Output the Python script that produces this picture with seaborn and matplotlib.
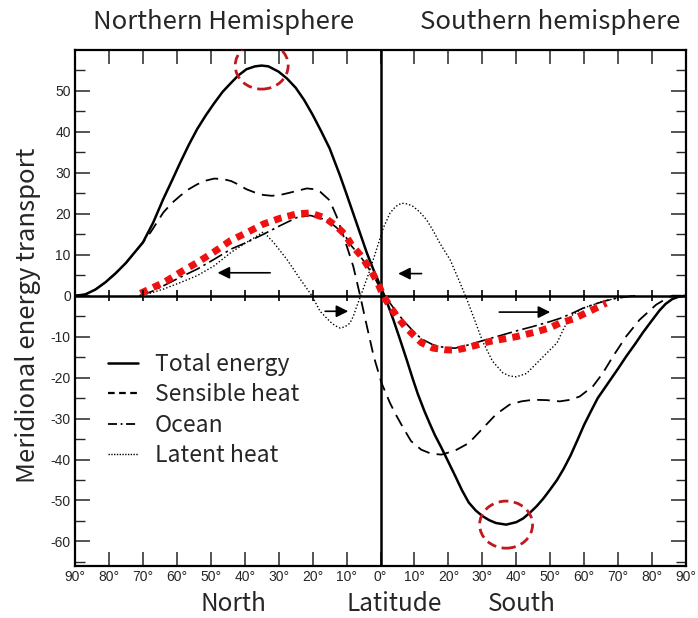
import numpy as np
import matplotlib
matplotlib.use("Agg")
import matplotlib.pyplot as plt
from matplotlib.patches import Ellipse
from matplotlib.lines import Line2D
import seaborn as sns

# ---------------- data (latitude: negative = North, positive = South) ----------------
total_lat = [-90, -87, -84, -81, -78, -75, -72, -70, -67, -64, -61.5, -59, -56.5, -54, -51.5, -49, -46.5, -44, -42,
             -39.5, -37, -35, -33, -30, -27.5, -25, -22.5, -20, -17.5, -15, -12, -10, -8, -6, -4, -2, 0,
             2, 3.8, 5.8, 7.7, 9.5, 11, 13, 14.5, 16, 18, 20, 22, 24, 26, 28, 30, 32, 34, 37, 40, 42, 44, 46,
             48, 50, 52, 54, 56, 58, 60, 62, 64, 67.5, 70, 72.4, 75, 77.3, 80, 82.2, 84, 86, 88, 90]
total_val = [0, 0.3, 1.5, 3.3, 5.5, 8, 11, 13, 17.8, 23.6, 28, 32.5, 36.8, 40.7, 44, 47, 49.8, 52, 53.7,
             55.3, 56, 56.2, 56, 54.7, 53, 50.8, 47.8, 44.2, 40.2, 36, 29.5, 24.8, 20, 15.2, 10.4, 6.2, 2.3,
             -1.8, -5.9, -10.8, -15.6, -20.3, -24, -28.3, -31.2, -34, -37.2, -40.6, -44, -47.5, -50.5, -52.4, -53.8, -54.8, -55.5, -55.9, -55.3, -54.4, -53, -51.4,
             -49.5, -47.3, -45, -42.2, -39, -35.3, -31.5, -28.2, -25, -20.8, -17.8, -14.8, -11.8, -9, -6, -3.6, -2, -0.8, -0.2, 0]

sens_lat = [-90, -87, -84, -81, -78, -75, -72, -70, -67.8, -64, -61.5, -59, -56.5, -54, -51.5, -49, -46.5, -44, -42,
            -39.5, -37, -34.5, -32, -29.6, -27, -24.6, -21.7, -19.5, -17.8, -15, -13, -11, -9.5, -8, -6, -4, -2,
            0.3, 2.8, 4.5, 6.5, 9, 12, 15, 18, 22, 26, 30, 34, 38, 41.5, 45, 49, 52.8, 56, 58.7,
            62.6, 65.5, 68.5, 72.4, 76.3, 81.2, 84, 86, 90]
sens_val = [0, 0.3, 1.5, 3.3, 5.5, 8, 11, 13, 15.4, 20.3, 22.6, 24.4, 26, 27.2, 28.1, 28.6, 28.5, 28, 27.2,
            26, 25.2, 24.6, 24.4, 24.6, 25.1, 25.6, 26.2, 26, 25.4, 23.3, 19.5, 14.8, 11, 7.1, 0, -7.5, -14.8,
            -21.3, -26.2, -29, -32, -35.5, -37.6, -38.6, -38.8, -37.8, -36, -32.5, -29, -26.6, -25.8, -25.4, -25.5, -25.8, -25.4, -24.6,
            -22.1, -18.9, -14.8, -9.9, -5.9, -2.2, -0.8, 0, 0]

ocean_lat = [-71, -67.5, -64, -59, -54, -49, -44, -39.5, -34.5, -29.6, -24.6, -20.7, -15.8, -12.9, -10.4, -8.5, -6, -4, -2, -0.6,
             0.8, 2.8, 5, 7.2, 9.6, 12, 15.5, 19, 22, 26, 30, 35, 40, 45, 50, 53, 56.7, 59.5, 62.6, 66, 69.5, 75]
ocean_val = [0, 1, 2.4, 4.5, 6.5, 8.9, 11.4, 13, 15, 17.1, 19.1, 19.6, 18.5, 16.6, 14.6, 12.1, 9.7, 7.3, 4.8, 2.6,
             0.5, -1.8, -4.3, -6.5, -8.6, -10.5, -12, -12.7, -12.8, -12, -11, -9.8, -8.6, -7.5, -6.3, -5.5, -4.2, -3.1, -2.2, -1.3, -0.6, 0]

latent_lat = [-71, -67.5, -64, -59, -54, -49, -44, -39.5, -36.5, -34.5, -31.5, -27.6, -23.7, -20.2, -17.8, -14.9, -13.4, -11.9,
              -10.5, -9, -8, -7, -5.5, -3.1, -0.6, 0.8, 2.8, 4.5, 6.2, 8, 9.6, 11.5, 13.6, 15.5, 17.5, 20.5, 23, 25.5,
              28, 30, 33, 36, 38, 40, 43, 46, 49, 52, 54, 56, 59.5, 62.6, 66, 69.5, 75]
latent_val = [0, 0.7, 1.6, 3.2, 4.9, 7.3, 10.6, 13, 14.5, 15.6, 13, 8.9, 4.1, 0, -3.8, -6.3, -7.3, -7.9,
              -7.6, -6.7, -5, -2.6, 0.7, 6.3, 12.8, 16.5, 20.2, 21.8, 22.6, 22.4, 21.8, 20.5, 18.5, 15.9, 12.8, 8.8, 4, -1,
              -6.5, -11, -16, -18.8, -19.6, -19.8, -19, -16.5, -14, -11.5, -8, -5, -3.1, -2.2, -1.3, -0.6, 0]

# red highlighted curve (ocean transport emphasis)
red_lat = [-70.7, -63.9, -59, -54, -49.2, -44.3, -39.4, -34.5, -29.6, -24.6, -20.7, -16.3, -12.9, -10.4, -8.5, -6, -4, -2.1,
           -0.6, 0.8, 2.8, 4.8, 7.2, 9.6, 12.1, 15.5, 19, 22, 26, 32, 40, 46, 50, 52.8, 56.7, 62.6, 66.5]
red_val = [0.6, 3.2, 5.7, 8.1, 10.6, 13.4, 15.4, 17.5, 18.9, 20, 20.2, 19, 16.9, 14.9, 12.4, 10, 7.6, 5.1,
           2.7, 0, -2.6, -5, -7.5, -9.5, -11.5, -12.8, -13.2, -13.3, -12.6, -11.2, -10, -8.8, -7.8, -6.7, -5.7, -3.4, -1.8]

legend_labels = ["Total energy", "Sensible heat", "Ocean", "Latent heat"]
xtick_pos = list(range(-90, 91, 10))
xtick_labels = [f"{abs(v)}°" for v in xtick_pos]
ytick_pos = list(range(-60, 51, 10))

# arrows: (start lat, start value, end lat, end value)
arrows = [(-32.5, 5.6, -48, 5.6), (12.1, 5.4, 5.2, 5.4), (-16.3, -3.8, -9.5, -3.8), (35, -4, 50, -4)]

# ---------------- style ----------------
sns.set_style("white")
plt.rcParams['font.family'] = ['Noto Sans CJK KR', 'DejaVu Sans']
tickfont = dict(family=['Liberation Sans', 'DejaVu Sans'], fontsize=10)

fig = plt.figure(figsize=(6.98, 6.18), dpi=100)
ax = fig.add_axes([75/698, 1-566/618, 611/698, 516/618])

sns.lineplot(x=total_lat, y=total_val, ax=ax, color="black", lw=1.8, sort=False, estimator=None)
sns.lineplot(x=sens_lat, y=sens_val, ax=ax, color="black", lw=1.3, sort=False, estimator=None,
             linestyle=(0, (7, 4)))
sns.lineplot(x=ocean_lat, y=ocean_val, ax=ax, color="black", lw=1.2, sort=False, estimator=None,
             linestyle=(0, (9, 2.5, 1.5, 2.5)))
sns.lineplot(x=latent_lat, y=latent_val, ax=ax, color="black", lw=1.0, sort=False, estimator=None,
             linestyle=(0, (1, 1.5)))
sns.lineplot(x=red_lat, y=red_val, ax=ax, color="#ee1111", lw=5, sort=False, estimator=None,
             linestyle=(0, (1.1, 0.9)))
for ln in ax.get_lines():
    ln.set_solid_joinstyle('round')
    ln.set_dash_joinstyle('round')
ax.get_lines()[-1].set_dash_capstyle('butt')

# axes lines at zero
ax.axhline(0, color="black", lw=1.8, zorder=1)
ax.axvline(0, color="black", lw=1.8, zorder=1)
inner_ticks = [v for v in xtick_pos if -90 < v < 90 and v != 0]
ax.vlines(inner_ticks, -1.3, 1.3, color="black", lw=1.2)

# circles at extremes of total transport
imax = int(np.argmax(total_val)); imin = int(np.argmin(total_val))
for i in (imax, imin):
    ax.add_patch(Ellipse((total_lat[i], total_val[i]), 15.6, 11.5, fill=False,
                         edgecolor="#c0181e", lw=2, linestyle=(0, (3.5, 2)), zorder=6))

# arrows
for x0, y0, x1, y1 in arrows:
    ax.annotate("", xy=(x1, y1), xytext=(x0, y0),
                arrowprops=dict(arrowstyle="-|>", color="black", lw=1.2, mutation_scale=18,
                                shrinkA=0, shrinkB=0))

ax.set_xlim(-90, 90)
ax.set_ylim(-66, 60)
ax.set_xticks(xtick_pos)
ax.set_xticklabels(xtick_labels, **tickfont)
ax.set_yticks(ytick_pos)
ax.set_yticklabels([str(v) for v in ytick_pos], **tickfont)
ax.set_yticks(np.arange(-65, 60, 5), minor=True)
ax.tick_params(axis='x', which='major', direction='in', length=10, width=1.1, top=True, bottom=True, pad=3)
ax.tick_params(axis='y', which='major', direction='in', length=11, width=1.1, left=True, right=True, pad=3)
ax.tick_params(axis='y', which='minor', direction='in', length=7, width=1.0, left=True, right=True)
for s in ax.spines.values():
    s.set_color("black"); s.set_linewidth(1.6)
ax.set_xlabel(""); ax.set_ylabel("")

# legend
handles = [Line2D([], [], color="black", lw=1.8),
           Line2D([], [], color="black", lw=1.6, linestyle=(0, (3, 2))),
           Line2D([], [], color="black", lw=1.3, linestyle=(0, (5, 2, 1, 2))),
           Line2D([], [], color="black", lw=1.0, linestyle=(0, (1, 1)))]
fig.legend(handles, legend_labels, loc="upper left", bbox_to_anchor=(108/698, 1-353/618),
           frameon=False, fontsize=16.5, handlelength=1.3, handletextpad=0.74,
           labelspacing=0.32, borderpad=0, borderaxespad=0)

# texts
fig.text(224/698, 1-22/618, "Northern Hemisphere", ha="center", va="center", fontsize=18.5)
fig.text(550/698, 1-22/618, "Southern hemisphere", ha="center", va="center", fontsize=18.5)
fig.text(28/698, 1-315/618, "Meridional energy transport", ha="center", va="center",
         rotation=90, fontsize=18.5)
fig.text(233/698, 1-604/618, "North", ha="center", va="center", fontsize=17.5)
fig.text(394/698, 1-604/618, "Latitude", ha="center", va="center", fontsize=17.5)
fig.text(522/698, 1-604/618, "South", ha="center", va="center", fontsize=17.5)

fig.savefig("out.png", dpi=100, facecolor="white")
